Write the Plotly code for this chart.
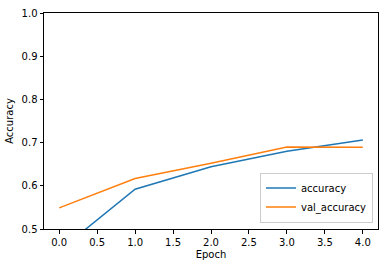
import plotly.graph_objects as go

epochs = [0, 1, 2, 3, 4]
accuracy = [0.450, 0.592, 0.644, 0.680, 0.706]
val_accuracy = [0.549, 0.617, 0.652, 0.690, 0.689]
x_ticks = [0.0, 0.5, 1.0, 1.5, 2.0, 2.5, 3.0, 3.5, 4.0]
y_ticks = [0.5, 0.6, 0.7, 0.8, 0.9, 1.0]

fig = go.Figure()
fig.add_trace(go.Scatter(x=epochs, y=accuracy, mode="lines", name="accuracy",
                         line=dict(color="#1f77b4", width=1.5)))
fig.add_trace(go.Scatter(x=epochs, y=val_accuracy, mode="lines", name="val_accuracy",
                         line=dict(color="#ff7f0e", width=1.5)))

font = dict(family="DejaVu Sans", size=10, color="#000000")
axis_common = dict(showgrid=False, zeroline=False, showline=True, linecolor="#000000",
                   linewidth=1, mirror=True, ticks="outside", ticklen=3.5,
                   tickcolor="#000000", tickwidth=1, tickfont=font, tickformat=".1f")

fig.update_layout(
    width=386, height=266,
    margin=dict(l=44, r=7, t=11, b=37),
    plot_bgcolor="white", paper_bgcolor="white",
    font=font,
    xaxis=dict(range=[-0.2, 4.2], tickvals=x_ticks,
               title=dict(text="Epoch", font=font, standoff=4), **axis_common),
    yaxis=dict(range=[0.5, 1.0], tickvals=y_ticks,
               title=dict(text="Accuracy", font=font, standoff=6), **axis_common),
    legend=dict(x=0.985, y=0.03, xanchor="right", yanchor="bottom",
                bgcolor="rgba(255,255,255,0.8)", bordercolor="#cccccc", borderwidth=1,
                font=font, itemwidth=30, tracegroupgap=0),
    showlegend=True,
)

fig.write_html("out.html")
